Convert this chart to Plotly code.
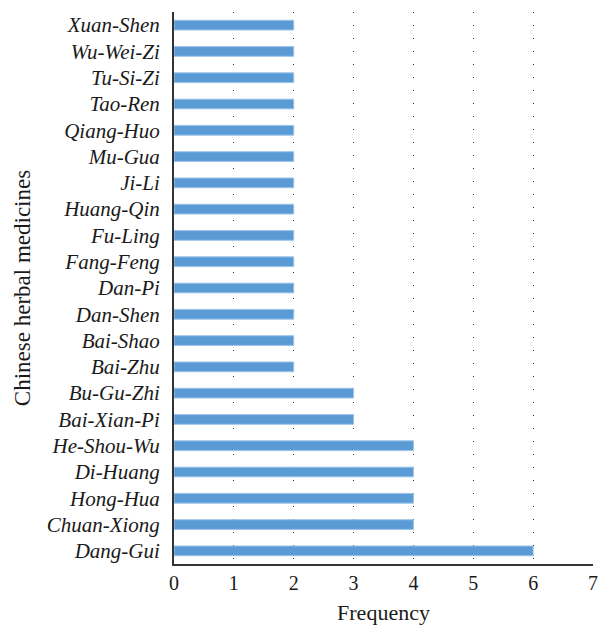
import plotly.graph_objects as go

# herbs from bottom to top, as drawn
herbs = ["Dang-Gui", "Chuan-Xiong", "Hong-Hua", "Di-Huang", "He-Shou-Wu",
         "Bai-Xian-Pi", "Bu-Gu-Zhi", "Bai-Zhu", "Bai-Shao", "Dan-Shen",
         "Dan-Pi", "Fang-Feng", "Fu-Ling", "Huang-Qin", "Ji-Li", "Mu-Gua",
         "Qiang-Huo", "Tao-Ren", "Tu-Si-Zi", "Wu-Wei-Zi", "Xuan-Shen"]
freq = [6, 4, 4, 4, 4, 3, 3, 2, 2, 2, 2, 2, 2, 2, 2, 2, 2, 2, 2, 2, 2]
ticks = [0, 1, 2, 3, 4, 5, 6, 7]

fig = go.Figure()
fig.add_trace(go.Bar(y=herbs, x=freq, orientation="h",
                     marker=dict(color="#5b9bd5", line=dict(color="#9cc3e8", width=1))))

serif = "Liberation Serif, Times New Roman, serif"
# page body has ~8px margin, so the figure is a bit smaller than the window
fig.update_layout(
    width=603, height=632,
    margin=dict(l=166, r=18, t=4, b=76),
    plot_bgcolor="white", paper_bgcolor="white",
    bargap=0.63,
    showlegend=False,
    font=dict(family=serif, size=20, color="#1a1a1a"),
)
fig.update_xaxes(range=[0, 7], tickvals=ticks, showgrid=True, gridcolor="#333333",
                 griddash="1px,12px", gridwidth=1, zeroline=False, automargin=False,
                 showline=True, linecolor="#333333", linewidth=2,
                 ticks="", tickfont=dict(size=20),
                 title=dict(text="Frequency", font=dict(size=22), standoff=12))
fig.update_yaxes(showgrid=False, showline=True, linecolor="#333333", linewidth=2,
                 automargin=False,
                 ticks="", tickfont=dict(family=serif, size=21, style="italic"),
                 ticklabelstandoff=8,
                 title=dict(text="Chinese herbal medicines", font=dict(size=23), standoff=10))

fig.write_html("out.html")
